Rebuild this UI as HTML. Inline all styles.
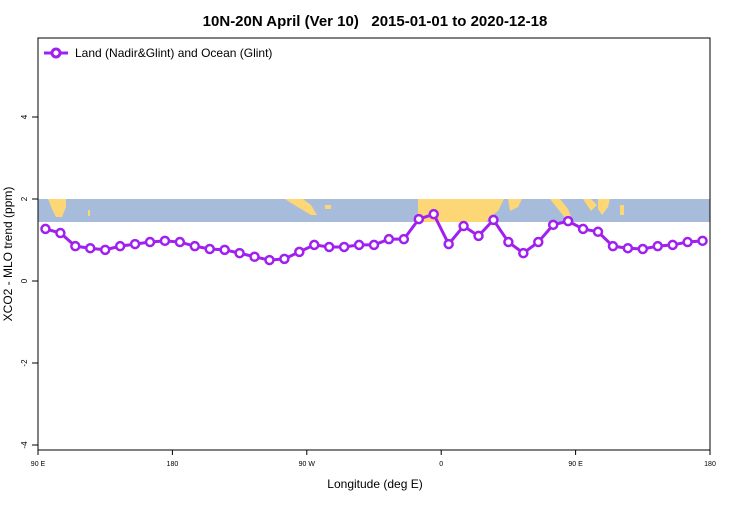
<!DOCTYPE html>
<html><head><meta charset="utf-8"><style>
body{margin:0;background:#fff;font-family:"Liberation Sans",sans-serif}
</style></head><body>
<svg id="c" width="750" height="500" xmlns="http://www.w3.org/2000/svg">
<text x="375" y="26" text-anchor="middle" font-size="15" font-weight="bold" style="white-space:pre">10N-20N April (Ver 10)   2015-01-01 to 2020-12-18</text>
<g id="strip">
<rect x="38" y="199" width="672" height="23" fill="#a7bcdb"/>
<path d="M48 199h18v8l-4 10h-6l-4-8z M88 210h2v6h-2z M285 199h18l8 6 6 10h-6l-10-6-10-6z M325 205h6v4h-6z M418 199h86l-6 12-8 6-4 5h-68z M508 199h14l-4 8-8 4z M550 199h10l8 10 4 10h-6l-8-10z M583 199h8l6 6-6 6z M598 199h12l-2 8-6 8-4-6z M620 205h4v10h-4z" fill="#fdd676"/>
</g>
<rect x="38" y="38" width="672" height="412" fill="none" stroke="#000"/>
<g id="axes" font-size="8"></g>
<g id="series"></g>
<g>
<line x1="44" y1="53" x2="68" y2="53" stroke="#a020f0" stroke-width="3"/>
<circle cx="56" cy="53" r="4" fill="#fff" stroke="#a020f0" stroke-width="3"/>
<text x="75" y="57" font-size="12">Land (Nadir&amp;Glint) and Ocean (Glint)</text>
</g>
<text x="375" y="488" text-anchor="middle" font-size="12">Longitude (deg E)</text>
<text transform="translate(12,254) rotate(-90)" text-anchor="middle" font-size="12">XCO2 - MLO trend (ppm)</text>
</svg>
<script>
const lons=[];for(let i=0;i<45;i++)lons.push(95+10*i);
const values=[1.27,1.17,0.85,0.80,0.76,0.85,0.90,0.95,0.98,0.95,0.85,0.78,0.76,0.68,0.59,0.51,0.54,0.71,0.88,0.83,0.83,0.88,0.88,1.02,1.02,1.51,1.63,0.90,1.34,1.10,1.49,0.95,0.68,0.95,1.37,1.46,1.27,1.20,0.85,0.80,0.78,0.85,0.88,0.95,0.98];
const yTicks=[4,2,0,-2,-4];
const xTickPos=[90,180,270,360,450,540];
const xTickLabels=["90 E","180","90 W","0","90 E","180"];
const NS="http://www.w3.org/2000/svg";
const X=l=>38+(l-90)*672/450;
const Y=v=>281-v*41;
const ax=document.getElementById('axes'),se=document.getElementById('series');
function mk(t,a,p){const e=document.createElementNS(NS,t);for(const k in a)e.setAttribute(k,a[k]);p.appendChild(e);return e;}
yTicks.forEach(v=>{
 const l=mk('line',{x1:32,x2:38,y1:Y(v),y2:Y(v),stroke:'#000'},ax);
 
 
 const t=mk('text',{transform:`translate(27,${Y(v)}) rotate(-90)`,'text-anchor':'middle'},ax);t.textContent=v;
 
 
});
xTickPos.forEach((p,i)=>{
 const l=mk('line',{x1:X(p),x2:X(p),y1:450,y2:455,stroke:'#000'},ax);
 
 
 const t=mk('text',{x:X(p),y:466,'text-anchor':'middle',"font-size":7},ax);t.textContent=xTickLabels[i];
 
 
});
const pl=mk('polyline',{points:values.map((v,i)=>X(lons[i])+','+Y(v)).join(' '),fill:'none',stroke:'#a020f0','stroke-width':3},se);


values.forEach((v,i)=>{
 const c=mk('circle',{cx:X(lons[i]),cy:Y(v),r:4,fill:'#fff',stroke:'#a020f0','stroke-width':2.5},se);
 
 
});
</script>
</body></html>
